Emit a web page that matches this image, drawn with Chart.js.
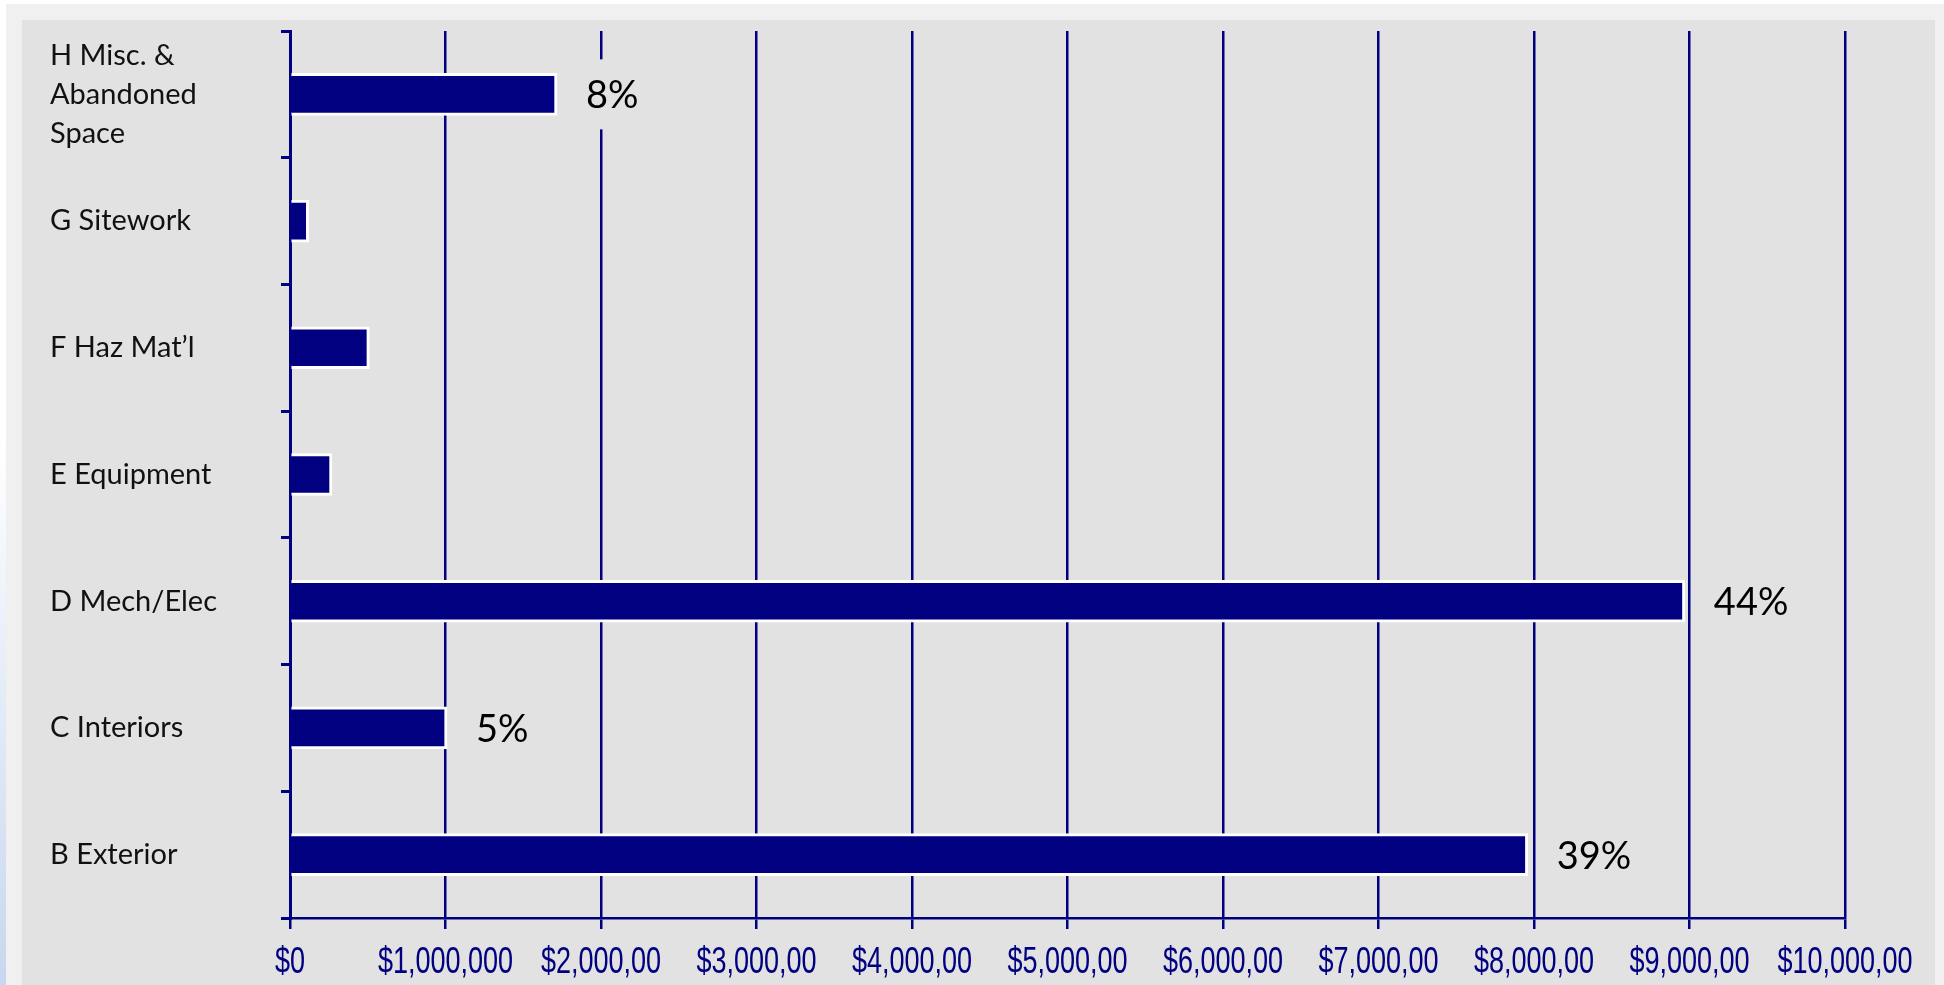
<!DOCTYPE html>
<html>
<head>
<meta charset="utf-8">
<script src="https://cdn.jsdelivr.net/npm/chart.js@4.4.1/dist/chart.umd.min.js"></script>
<style>
  html, body { margin: 0; padding: 0; }
  body { width: 1944px; height: 985px; background: #f0f0f0; position: relative; overflow: hidden; }
  .top-strip { position: absolute; left: 0; top: 0; width: 1944px; height: 4px; background: #fff; }
  .left-strip { position: absolute; left: 0; top: 0; width: 6px; height: 985px;
    background: linear-gradient(to bottom, #fff 0%, #fff 45%, #e4ecf8 70%, #c8d7ee 100%); }
  .panel { position: absolute; left: 22px; top: 20px; width: 1913px; height: 965px; background: #e2e2e2; }
</style>
</head>
<body>
<div class="top-strip"></div>
<div class="left-strip"></div>
<div class="panel"><canvas id="cost"></canvas></div>
<script>
// category labels, top to bottom
const categories = [
  ['H Misc. &', 'Abandoned', 'Space'],
  'G Sitework',
  'F Haz Mat\u2019l',
  'E Equipment',
  'D Mech/Elec',
  'C Interiors',
  'B Exterior'
];
// cost per category ($)
const costs = [1717000, 120000, 510000, 270000, 8970000, 1010000, 7960000];
// share labels shown beside some bars
const shareLabels = ['8%', '', '', '', '44%', '5%', '39%'];
// x tick labels as printed (clipped in the original)
const xTickLabels = ['$0', '$1,000,000', '$2,000,00', '$3,000,00', '$4,000,00', '$5,000,00',
  '$6,000,00', '$7,000,00', '$8,000,00', '$9,000,00', '$10,000,00'];

const navy = '#000080';
const panelBg = '#e2e2e2';

// condensed x tick labels drawn at the scale's tick positions
const xLabelsPlugin = {
  id: 'xLabels',
  afterDraw(chart) {
    const sx = chart.scales.x;
    const g = chart.ctx;
    g.save();
    g.font = '37px "Liberation Sans", Arial, sans-serif';
    g.fillStyle = navy;
    g.textAlign = 'center';
    g.textBaseline = 'alphabetic';
    sx.ticks.forEach((t, i) => {
      const x = sx.getPixelForValue(t.value);
      g.save();
      g.translate(x, sx.top + 55);
      g.scale(0.73, 1);
      g.fillText(xTickLabels[i] ?? '', 0, 0);
      g.restore();
    });
    g.restore();
  }
};

// percentage labels to the right of the bars
const sharePlugin = {
  id: 'shares',
  afterDatasetsDraw(chart) {
    const meta = chart.getDatasetMeta(0);
    const g = chart.ctx;
    g.save();
    g.font = '38px Lato, sans-serif';
    g.textAlign = 'left';
    g.textBaseline = 'alphabetic';
    meta.data.forEach((bar, i) => {
      const txt = shareLabels[i];
      if (!txt) return;
      const x = bar.x + 29;
      const w = g.measureText(txt).width;
      g.fillStyle = panelBg;
      g.fillRect(x - 8, bar.y - 35, w + 16, 70);
      g.fillStyle = '#000';
      g.fillText(txt, x, bar.y + 14);
    });
    g.restore();
  }
};

new Chart(document.getElementById('cost'), {
  type: 'bar',
  data: {
    labels: categories,
    datasets: [{
      data: costs,
      backgroundColor: navy,
      borderColor: '#ffffff',
      borderWidth: 3,
      borderSkipped: 'start',
      barThickness: 42
    }]
  },
  options: {
    indexAxis: 'y',
    responsive: true,
    maintainAspectRatio: false,
    animation: false,
    layout: { padding: { left: 28, top: 11, right: 90, bottom: 0 } },
    plugins: { legend: { display: false }, tooltip: { enabled: false } },
    scales: {
      x: {
        min: 0,
        max: 10000000,
        ticks: { stepSize: 1000000, display: false },
        grid: { color: navy, lineWidth: 2.5, drawTicks: true, tickLength: 11 },
        border: { display: true, color: navy, width: 2.5 },
        afterFit: s => { s.height = 67; }
      },
      y: {
        ticks: {
          crossAlign: 'far',
          color: '#111',
          font: { family: 'Lato, sans-serif', size: 29, lineHeight: 1.35 }
        },
        grid: { drawOnChartArea: false, color: navy, lineWidth: 3, tickLength: 9 },
        border: { display: true, color: navy, width: 3 },
        afterFit: s => { s.width = 240; s.paddingTop = 0; s.paddingBottom = 0; }
      }
    }
  },
  plugins: [xLabelsPlugin, sharePlugin]
});
</script>
</body>
</html>
